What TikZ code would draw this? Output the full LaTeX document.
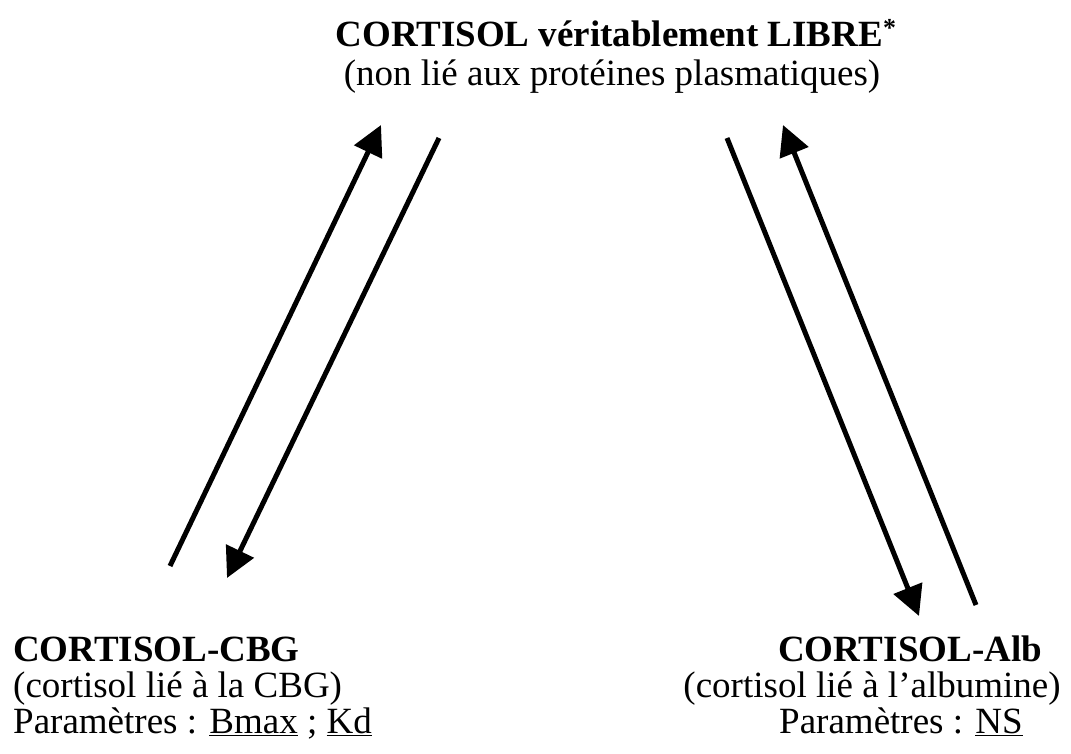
\documentclass[tikz,border=0pt]{standalone}
\usepackage{fontspec}
\setmainfont{Liberation Serif}
\usetikzlibrary{arrows.meta}
\begin{document}
\begin{tikzpicture}[x=1pt,y=-1pt,
  txt/.style={inner sep=0pt, font=\fontsize{37}{44}\selectfont},
  ttl/.style={txt, anchor=base},
  lft/.style={txt, anchor=base west},
  arr/.style={line width=5pt, -{Triangle[length=30pt,width=30pt]}}]
\useasboundingbox (0,0) rectangle (1071,753);
% texts
\node[ttl] (free) at (616,46) {\textbf{CORTISOL véritablement LIBRE}\textsuperscript{\textbf{*}}};
\node[ttl] (freesub) at (612,85) {(non lié aux protéines plasmatiques)};
\node[lft] (cbg) at (13,661) {\textbf{CORTISOL-CBG}};
\node[lft] (cbgsub) at (13,697) {(cortisol lié à la CBG)};
\node[lft] (cbgpar) at (13,733) {Paramètres : \underline{Bmax} ; \underline{Kd}};
\node[ttl] (alb) at (910,661) {\textbf{CORTISOL-Alb}};
\node[ttl] (albsub) at (872,697) {(cortisol lié à l’albumine)};
\node[ttl] (albpar) at (901,733) {Paramètres : \underline{NS}};
% arrow ends
\coordinate (l1s) at (170,566);
\coordinate (l1e) at (381,125);
\coordinate (l2s) at (439,138);
\coordinate (l2e) at (227,578);
\coordinate (r1s) at (727,138);
\coordinate (r1e) at (919,616);
\coordinate (r2s) at (976,605);
\coordinate (r2e) at (783,125);
\draw[arr] (l1s) -- (l1e);
\draw[arr] (l2s) -- (l2e);
\draw[arr] (r1s) -- (r1e);
\draw[arr] (r2s) -- (r2e);
\end{tikzpicture}
\end{document}
